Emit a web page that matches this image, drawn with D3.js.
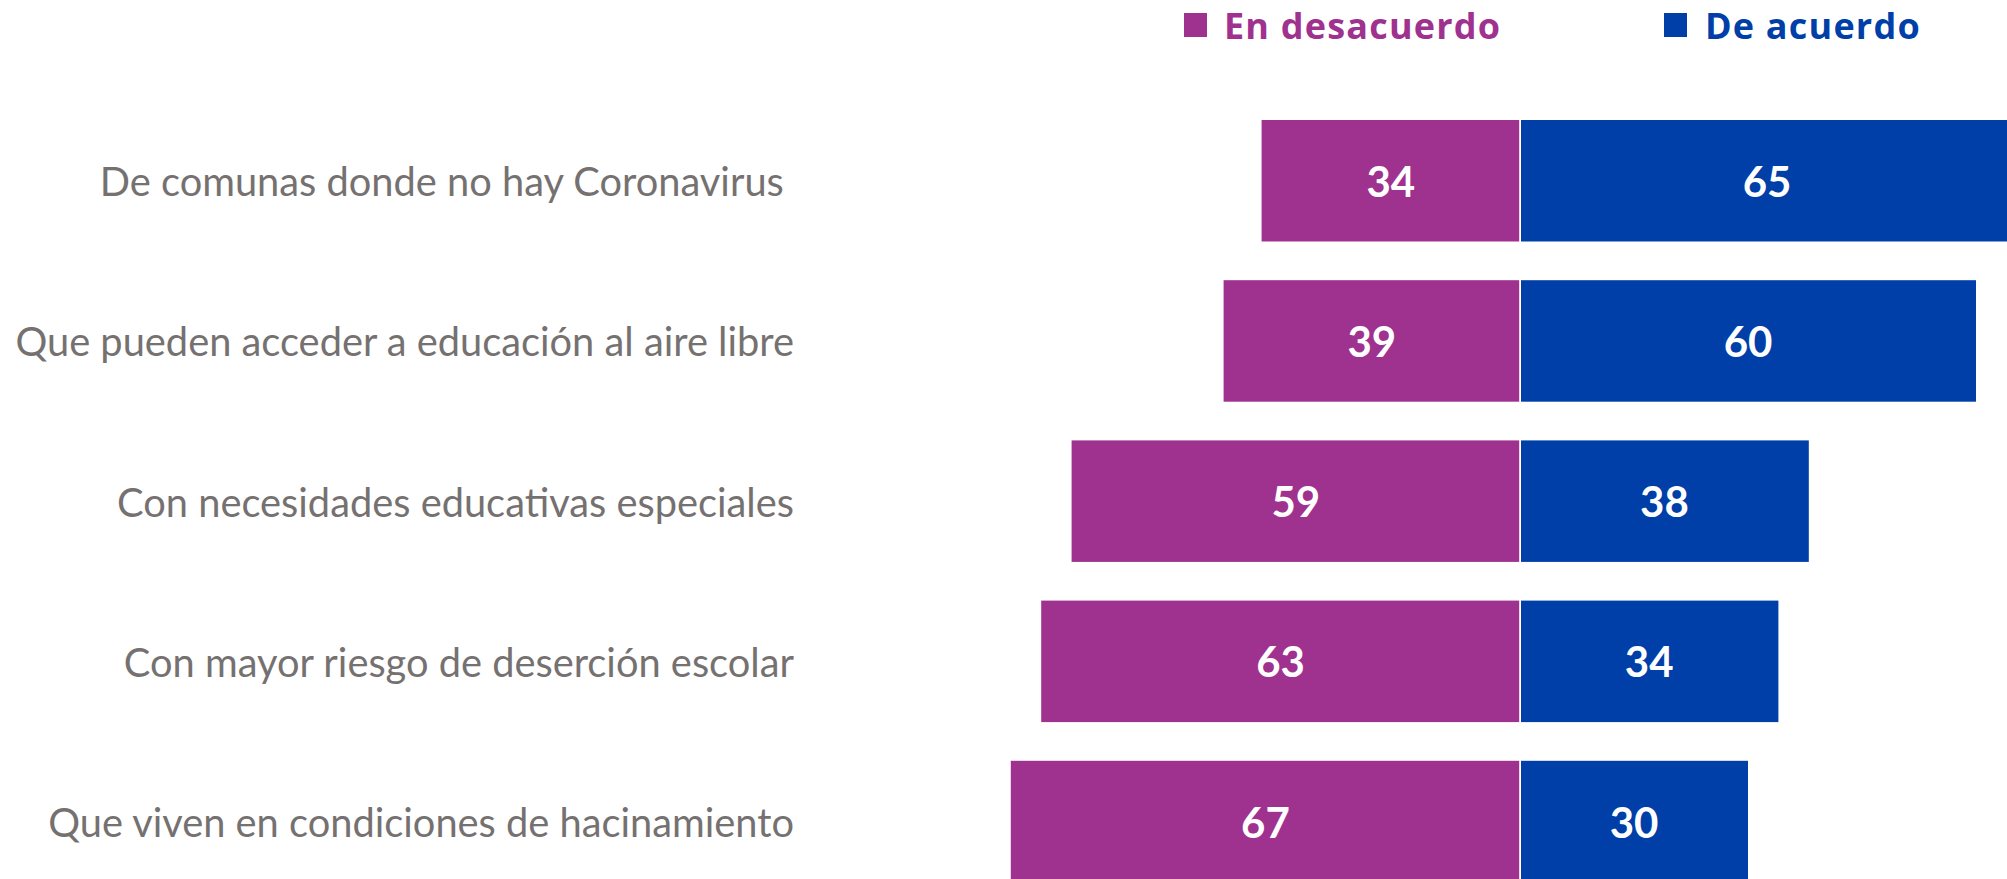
<!DOCTYPE html>
<html>
<head>
<meta charset="utf-8">
<script src="https://cdn.jsdelivr.net/npm/d3@7"></script>
<style>
  html, body { margin: 0; padding: 0; background: #ffffff; }
  svg { display: block; }
  text { white-space: pre; }
</style>
</head>
<body>
<script>
const categories = [
  "De comunas donde no hay Coronavirus ",
  "Que pueden acceder a educación al aire libre",
  "Con necesidades educativas especiales",
  "Con mayor riesgo de deserción escolar",
  "Que viven en condiciones de hacinamiento"
];
const desacuerdo = [34, 39, 59, 63, 67];
const deAcuerdo = [65, 60, 38, 34, 30];
const seriesNames = ["En desacuerdo", "De acuerdo"];
const colors = ["#9F318F", "#003FA7"];

const W = 2007, H = 879;
const svg = d3.select("body").append("svg").attr("width", W).attr("height", H);

const x = d3.scaleLinear().domain([-100, 100]).range([760, 2280]);
const y = d3.scaleBand().domain(categories).range([120, 882.3]).paddingInner(0.2416).paddingOuter(0);

const rows = categories.map((c, i) => ({ cat: c, neg: desacuerdo[i], pos: deAcuerdo[i] }));

// Purple (desacuerdo) bars
svg.append("g").selectAll("rect").data(rows).join("rect")
  .attr("x", d => x(-d.neg))
  .attr("y", d => y(d.cat))
  .attr("width", d => x(0) - x(-d.neg) - 0.8)
  .attr("height", y.bandwidth())
  .attr("fill", colors[0]);

// Blue (de acuerdo) bars
svg.append("g").selectAll("rect").data(rows).join("rect")
  .attr("x", x(0) + 1)
  .attr("y", d => y(d.cat))
  .attr("width", d => x(d.pos) - x(0) - 1)
  .attr("height", y.bandwidth())
  .attr("fill", colors[1]);

// Value labels
const vfont = "Lato, 'Open Sans', sans-serif";
svg.append("g").selectAll("text").data(rows).join("text")
  .attr("x", d => (x(-d.neg) + x(0)) / 2)
  .attr("y", d => y(d.cat) + y.bandwidth() / 2)
  .attr("text-anchor", "middle")
  .attr("dominant-baseline", "central")
  .attr("font-family", vfont).attr("font-weight", 700).attr("font-size", 42)
  .attr("fill", "#ffffff")
  .text(d => d.neg);

svg.append("g").selectAll("text").data(rows).join("text")
  .attr("x", d => (x(d.pos) + x(0)) / 2)
  .attr("y", d => y(d.cat) + y.bandwidth() / 2)
  .attr("text-anchor", "middle")
  .attr("dominant-baseline", "central")
  .attr("font-family", vfont).attr("font-weight", 700).attr("font-size", 42)
  .attr("fill", "#ffffff")
  .text(d => d.pos);

// Category labels
const labels = svg.append("g").selectAll("text").data(rows).join("text")
  .attr("x", 794)
  .attr("y", d => y(d.cat) + y.bandwidth() / 2)
  .attr("text-anchor", "end")
  .attr("dominant-baseline", "central")
  .attr("font-family", vfont).attr("font-size", 35)
  .attr("fill", "#767171")
  .text(d => d.cat);
// fit font size so the widest label matches the reference width
const ref = labels.filter((d, i) => i === 1).node();
const w0 = ref.getComputedTextLength();
const fs = 35 * 779 / w0;
labels.attr("font-size", fs);

// Legend
const legend = svg.append("g");
const legendItems = [
  { name: seriesNames[0], color: colors[0], sx: 1184, tx: 1224 },
  { name: seriesNames[1], color: colors[1], sx: 1664, tx: 1705 }
];
legendItems.forEach(it => {
  legend.append("rect").attr("x", it.sx).attr("y", 13).attr("width", 23).attr("height", 24).attr("fill", it.color);
  legend.append("text")
    .attr("x", it.tx).attr("y", 38.5)
    .attr("font-family", "'Open Sans', sans-serif").attr("font-weight", 700).attr("font-size", 36)
    .attr("letter-spacing", 1.2)
    .attr("fill", it.color)
    .text(it.name);
});
</script>
</body>
</html>
